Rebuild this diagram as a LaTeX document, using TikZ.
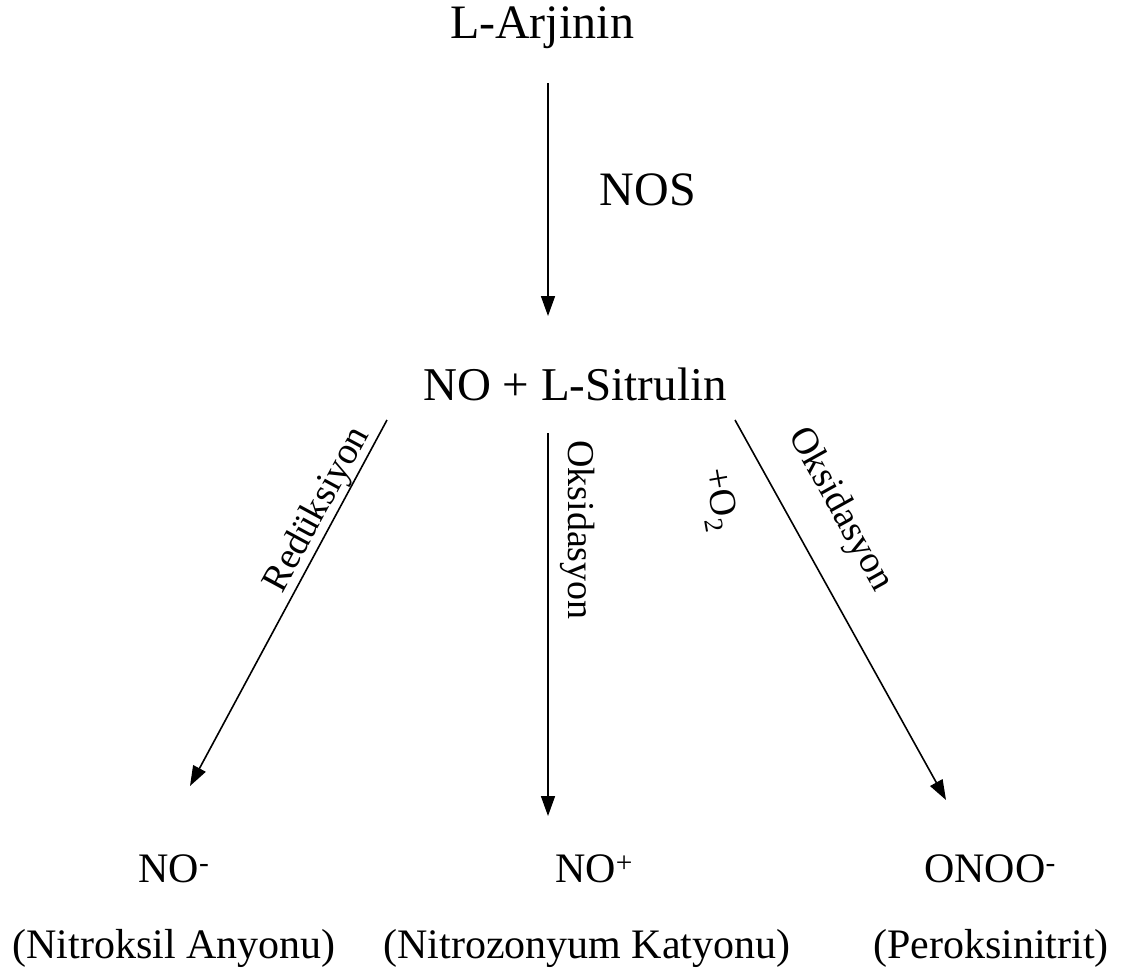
\documentclass[tikz,border=0pt]{standalone}
\usepackage{fontspec}
\setmainfont{Liberation Serif}
\usetikzlibrary{arrows.meta}
\begin{document}
\begin{tikzpicture}[x=1pt,y=-1pt,
  big/.style={font=\fontsize{48}{54}\selectfont, inner sep=0pt, anchor=base},
  mid/.style={font=\fontsize{42}{48}\selectfont, inner sep=0pt, anchor=base},
  lab/.style={font=\fontsize{38}{44}\selectfont, inner sep=0pt},
  conn/.style={line width=1.6pt, -{Triangle[length=20pt,width=14pt]}}]
\useasboundingbox (0,0) rectangle (1121,972);
\node[big] (arg) at (542,38) {L-Arjinin};
\node[big] (nos) at (648,205) {NOS};
\node[big, font=\fontsize{47}{54}\selectfont] (nosit) at (575,400) {NO + L-Sitrulin};
\node[mid] (nom) at (174,882) {NO\textsuperscript{-}};
\node[mid] (nop) at (594,882) {NO\textsuperscript{+}};
\node[mid] (onoo) at (990,882) {ONOO\textsuperscript{-}};
\node[mid] (nitrox) at (174,958) {(Nitroksil Anyonu)};
\node[mid] (nitroz) at (587,958) {(Nitrozonyum Katyonu)};
\node[mid] (perox) at (991,958) {(Peroksinitrit)};
\coordinate (a1s) at (548,83);
\coordinate (a1e) at (548,316);
\coordinate (a2s) at (387,420);
\coordinate (a2e) at (190,786);
\coordinate (a3s) at (548,433);
\coordinate (a3e) at (548,816);
\coordinate (a4s) at (735,420);
\coordinate (a4e) at (946,800);
\draw[conn] (a1s) -- (a1e);
\draw[conn] (a2s) -- (a2e);
\draw[conn] (a3s) -- (a3e);
\draw[conn] (a4s) -- (a4e);
\node[lab, rotate=61.6] (red) at (318,510) {Redüksiyon};
\node[lab, rotate=-90] (oks1) at (578,530) {Oksidasyon};
\node[lab, rotate=-80] (o2) at (718,500) {+O\textsubscript{2}};
\node[lab, rotate=-61] (oks2) at (840,510) {Oksidasyon};
\end{tikzpicture}
\end{document}
